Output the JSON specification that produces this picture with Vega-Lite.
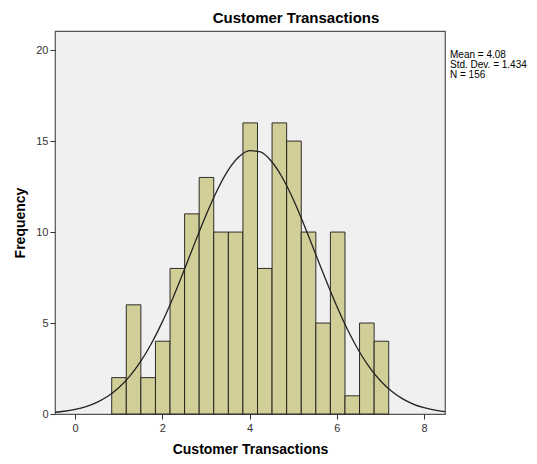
{
  "$schema": "https://vega.github.io/schema/vega-lite/v6.json",
  "width": 390,
  "height": 383,
  "autosize": {"type": "none"},
  "padding": {"left": 55, "top": 31, "right": 92, "bottom": 50},
  "background": "white",
  "config": {
    "font": "Liberation Sans",
    "view": {"fill": "#F0F0F0", "stroke": "#555555", "strokeWidth": 1.2},
    "axis": {"grid": false, "domain": false, "tickColor": "#333333", "tickSize": 5, "labelColor": "#333333", "labelFont": "Liberation Sans", "labelFontSize": 11, "titleFont": "Liberation Sans", "titleFontSize": 14, "titleFontWeight": "bold", "titleColor": "#000000"}
  },
  "title": {"text": "Customer Transactions", "font": "Liberation Sans", "fontSize": 15, "fontWeight": "bold", "color": "#000000", "anchor": "middle", "dx": 46, "offset": 5},
  "datasets": {
    "bins": [
      {"x0": 0.840, "x1": 1.174, "count": 2},
      {"x0": 1.174, "x1": 1.508, "count": 6},
      {"x0": 1.508, "x1": 1.843, "count": 2},
      {"x0": 1.843, "x1": 2.177, "count": 4},
      {"x0": 2.177, "x1": 2.511, "count": 8},
      {"x0": 2.511, "x1": 2.845, "count": 11},
      {"x0": 2.845, "x1": 3.179, "count": 13},
      {"x0": 3.179, "x1": 3.514, "count": 10},
      {"x0": 3.514, "x1": 3.848, "count": 10},
      {"x0": 3.848, "x1": 4.182, "count": 16},
      {"x0": 4.182, "x1": 4.516, "count": 8},
      {"x0": 4.516, "x1": 4.850, "count": 16},
      {"x0": 4.850, "x1": 5.185, "count": 15},
      {"x0": 5.185, "x1": 5.519, "count": 10},
      {"x0": 5.519, "x1": 5.853, "count": 5},
      {"x0": 5.853, "x1": 6.187, "count": 10},
      {"x0": 6.187, "x1": 6.521, "count": 1},
      {"x0": 6.521, "x1": 6.856, "count": 5},
      {"x0": 6.856, "x1": 7.190, "count": 4}
    ],
    "curve": [
      {"x": -0.5, "y": 0.088},
      {"x": -0.25, "y": 0.152},
      {"x": 0, "y": 0.253},
      {"x": 0.25, "y": 0.410},
      {"x": 0.5, "y": 0.643},
      {"x": 0.75, "y": 0.978},
      {"x": 1, "y": 1.444},
      {"x": 1.25, "y": 2.069},
      {"x": 1.5, "y": 2.874},
      {"x": 1.75, "y": 3.874},
      {"x": 2, "y": 5.064},
      {"x": 2.25, "y": 6.423},
      {"x": 2.5, "y": 7.902},
      {"x": 2.75, "y": 9.432},
      {"x": 3, "y": 10.92},
      {"x": 3.25, "y": 12.26},
      {"x": 3.5, "y": 13.36},
      {"x": 3.75, "y": 14.12},
      {"x": 4, "y": 14.48},
      {"x": 4.25, "y": 14.40},
      {"x": 4.5, "y": 13.89},
      {"x": 4.75, "y": 13.00},
      {"x": 5, "y": 11.80},
      {"x": 5.25, "y": 10.39},
      {"x": 5.5, "y": 8.881},
      {"x": 5.75, "y": 7.360},
      {"x": 6, "y": 5.917},
      {"x": 6.25, "y": 4.614},
      {"x": 6.5, "y": 3.491},
      {"x": 6.75, "y": 2.562},
      {"x": 7, "y": 1.824},
      {"x": 7.25, "y": 1.260},
      {"x": 7.5, "y": 0.844},
      {"x": 7.75, "y": 0.548},
      {"x": 8, "y": 0.346},
      {"x": 8.25, "y": 0.211},
      {"x": 8.5, "y": 0.125}
    ],
    "stats": [
      {"label": ["Mean = 4.08", "Std. Dev. = 1.434", "N = 156"], "xpos": 8.48, "ypos": 20}
    ]
  },
  "layer": [
    {
      "data": {"name": "bins"},
      "mark": {"type": "rect", "fill": "#D2CE97", "stroke": "#1a1a1a", "strokeWidth": 0.9},
      "encoding": {
        "x": {"field": "x0", "type": "quantitative", "scale": {"domain": [-0.46, 8.48], "nice": false, "zero": false}, "axis": {"values": [0, 2, 4, 6, 8], "title": "Customer Transactions", "labelPadding": 3, "titlePadding": 9}},
        "x2": {"field": "x1"},
        "y": {"field": "count", "type": "quantitative", "scale": {"domain": [0, 21.05], "nice": false}, "axis": {"values": [0, 5, 10, 15, 20], "title": "Frequency", "labelPadding": 2, "titlePadding": 8}},
        "y2": {"datum": 0}
      }
    },
    {
      "data": {"name": "curve"},
      "mark": {"type": "line", "color": "#222222", "strokeWidth": 1.3, "clip": true, "interpolate": "monotone"},
      "encoding": {
        "x": {"field": "x", "type": "quantitative"},
        "y": {"field": "y", "type": "quantitative"}
      }
    },
    {
      "data": {"name": "stats"},
      "mark": {"type": "text", "align": "left", "baseline": "top", "dx": 5, "fontSize": 10, "lineHeight": 10, "color": "#000000", "font": "Liberation Sans"},
      "encoding": {
        "x": {"field": "xpos", "type": "quantitative"},
        "y": {"field": "ypos", "type": "quantitative"},
        "text": {"field": "label"}
      }
    }
  ]
}
